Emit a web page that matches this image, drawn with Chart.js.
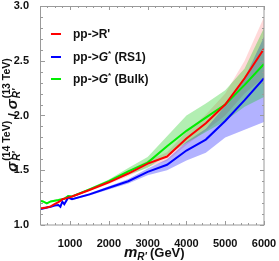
<!DOCTYPE html>
<html>
<head>
<meta charset="utf-8">
<script src="https://cdn.jsdelivr.net/npm/chart.js@4.4.0/dist/chart.umd.min.js"></script>
<style>
    html, body { margin: 0; padding: 0; background: #fff; }
</style>
</head>
<body>
<canvas id="ratioChart" width="279" height="261"></canvas>
<script>
const massGeV = [250, 300, 400, 500, 600, 700, 750, 800, 850, 950, 1050, 1500, 2000, 2500, 3000, 3500, 4000, 4500, 5000, 5500, 6000];

const ratioR     = [1.153, 1.155, 1.16, 1.17, 1.19, 1.21, 1.22, 1.235, 1.24, 1.25, 1.26, 1.32, 1.39, 1.47, 1.56, 1.625, 1.79, 1.93, 2.10, 2.34, 2.61];
const ratioRUp   = [1.16, 1.162, 1.167, 1.177, 1.198, 1.218, 1.228, 1.243, 1.248, 1.258, 1.268, 1.33, 1.405, 1.495, 1.59, 1.665, 1.85, 2.01, 2.20, 2.50, 2.90];
const ratioRDown = [1.146, 1.148, 1.153, 1.163, 1.182, 1.202, 1.212, 1.227, 1.232, 1.242, 1.252, 1.31, 1.375, 1.445, 1.53, 1.585, 1.73, 1.86, 2.00, 2.20, 2.35];

const ratioRS1     = [1.146, 1.15, 1.16, 1.167, 1.178, 1.183, 1.167, 1.213, 1.19, 1.25, 1.235, 1.28, 1.34, 1.40, 1.485, 1.55, 1.68, 1.78, 1.95, 2.14, 2.34];
const ratioRS1Up   = [1.153, 1.157, 1.167, 1.174, 1.185, 1.19, 1.174, 1.22, 1.197, 1.257, 1.242, 1.29, 1.355, 1.42, 1.515, 1.60, 1.76, 1.88, 2.09, 2.34, 2.72];
const ratioRS1Down = [1.139, 1.143, 1.153, 1.16, 1.171, 1.176, 1.16, 1.206, 1.183, 1.243, 1.228, 1.27, 1.325, 1.38, 1.455, 1.50, 1.59, 1.66, 1.80, 1.87, 1.94];

const ratioBulk     = [1.22, 1.215, 1.198, 1.215, 1.222, 1.228, 1.232, 1.235, 1.24, 1.265, 1.26, 1.325, 1.40, 1.49, 1.57, 1.72, 1.86, 1.98, 2.10, 2.28, 2.47];
const ratioBulkUp   = [1.228, 1.223, 1.206, 1.223, 1.23, 1.236, 1.24, 1.243, 1.248, 1.273, 1.268, 1.335, 1.415, 1.52, 1.62, 1.81, 2.00, 2.11, 2.23, 2.43, 2.80];
const ratioBulkDown = [1.212, 1.207, 1.19, 1.207, 1.214, 1.22, 1.224, 1.227, 1.232, 1.257, 1.252, 1.315, 1.385, 1.46, 1.52, 1.64, 1.75, 1.85, 1.95, 2.08, 2.17];

const xTickLabels = [1000, 2000, 3000, 4000, 5000, 6000];
const yTickLabels = [1.0, 1.5, 2.0, 2.5, 3.0];

const FONT = '"Liberation Sans", Arial, sans-serif';

function pts(values) {
    return massGeV.map((m, i) => ({ x: m, y: values[i] }));
}

function lineSet(values, color) {
    return { data: pts(values), borderColor: color, borderWidth: 2, pointRadius: 0, fill: false, tension: 0 };
}

function bandSet(values, fillColor, fill) {
    return { data: pts(values), borderWidth: 0, borderColor: 'transparent', backgroundColor: fillColor, pointRadius: 0, fill: fill, tension: 0 };
}

// frame with inward ticks on all four sides, like the original plot
const framePlugin = {
    id: 'frame',
    afterDraw(chart) {
        const { ctx, chartArea: a, scales: { x, y } } = chart;
        ctx.save();
        ctx.strokeStyle = '#9a9a9a';
        ctx.lineWidth = 1;
        ctx.strokeRect(a.left - 0.5, a.top + 0.5, a.right - a.left + 0.5, a.bottom - a.top - 0.5);

        ctx.beginPath();
        for (let v = 1.0; v <= 3.0001; v += 0.1) {
            const py = Math.round(y.getPixelForValue(v)) + 0.5;
            const major = Math.abs(v * 2 - Math.round(v * 2)) < 1e-6;
            const len = major ? 4 : 2;
            ctx.moveTo(a.left, py); ctx.lineTo(a.left + len, py);
            ctx.moveTo(a.right, py); ctx.lineTo(a.right - len, py);
        }
        for (let v = 400; v <= 6000; v += 200) {
            const px = Math.round(x.getPixelForValue(v)) + 0.5;
            const len = v % 1000 === 0 ? 4 : 2;
            ctx.moveTo(px, a.bottom); ctx.lineTo(px, a.bottom - len);
            ctx.moveTo(px, a.top); ctx.lineTo(px, a.top + len);
        }
        ctx.stroke();
        ctx.restore();
    }
};

function drawRuns(ctx, runs, x0, y0) {
    let x = x0;
    runs.forEach(r => {
        ctx.font = r.font;
        ctx.fillText(r.text, x, y0 + (r.dy || 0));
        if (!r.noAdvance) x += ctx.measureText(r.text).width + (r.gap || 0);
    });
    return x;
}

function runsWidth(ctx, runs) {
    let w = 0;
    runs.forEach(r => {
        ctx.font = r.font;
        if (!r.noAdvance) w += ctx.measureText(r.text).width + (r.gap || 0);
    });
    return w;
}

// axis titles and legend drawn as text on the canvas
const labelPlugin = {
    id: 'labels',
    afterDraw(chart) {
        const ctx = chart.ctx;
        ctx.save();
        ctx.fillStyle = '#111';
        ctx.textBaseline = 'alphabetic';

        // y title: sigma_R'^(14 TeV) / sigma_R'^(13 TeV)
        const sig = `italic bold 15px ${FONT}`;
        const small = `bold 10.5px ${FONT}`;
        const smallIt = `italic bold 10px ${FONT}`;
        const yRuns = [
            { text: 'σ', font: sig, gap: 1 },
            { text: "R'", font: smallIt, dy: 3, noAdvance: true },
            { text: '(14 TeV)', font: small, dy: -7, gap: 4 },
            { text: '/', font: `bold 13px ${FONT}`, gap: 4 },
            { text: 'σ', font: sig, gap: 1 },
            { text: "R'", font: smallIt, dy: 3, noAdvance: true },
            { text: '(13 TeV)', font: small, dy: -7 }
        ];
        ctx.save();
        ctx.translate(17, 115);
        ctx.rotate(-Math.PI / 2);
        drawRuns(ctx, yRuns, -runsWidth(ctx, yRuns) / 2, 0);
        ctx.restore();

        // x title: m_R' (GeV)
        drawRuns(ctx, [
            { text: 'm', font: `italic bold 15px ${FONT}` },
            { text: "R'", font: `italic bold 10px ${FONT}`, dy: 3, gap: 3 },
            { text: '(GeV)', font: `bold 13px ${FONT}` }
        ], 124, 257);

        // legend
        const legend = [
            { color: '#ff0000', y: 34, runs: [{ text: "pp->R'", font: `bold 12px ${FONT}` }] },
            { color: '#0000ff', y: 57, runs: [
                { text: 'pp->', font: `bold 12px ${FONT}` },
                { text: 'G', font: `italic bold 12px ${FONT}` },
                { text: '*', font: `bold 8px ${FONT}`, dy: -5 },
                { text: ' (RS1)', font: `bold 12px ${FONT}` }
            ] },
            { color: '#00ee00', y: 79, runs: [
                { text: 'pp->', font: `bold 12px ${FONT}` },
                { text: 'G', font: `italic bold 12px ${FONT}` },
                { text: '*', font: `bold 8px ${FONT}`, dy: -5 },
                { text: ' (Bulk)', font: `bold 12px ${FONT}` }
            ] }
        ];
        legend.forEach(item => {
            ctx.strokeStyle = item.color;
            ctx.lineWidth = 2;
            ctx.beginPath();
            ctx.moveTo(51, item.y);
            ctx.lineTo(61, item.y);
            ctx.stroke();
            drawRuns(ctx, item.runs, 73, item.y + 4);
        });
        ctx.restore();
    }
};

const ctx = document.getElementById('ratioChart').getContext('2d');

new Chart(ctx, {
    type: 'line',
    data: {
        datasets: [
            lineSet(ratioR, '#ff0000'),
            lineSet(ratioRS1, '#0000ff'),
            lineSet(ratioBulk, '#00ee00'),
            bandSet(ratioBulkUp, 'rgba(0, 200, 0, 0.3)', '+1'),
            bandSet(ratioBulkDown, 'transparent', false),
            bandSet(ratioRS1Up, 'rgba(0, 0, 255, 0.3)', '+1'),
            bandSet(ratioRS1Down, 'transparent', false),
            bandSet(ratioRUp, 'rgba(255, 0, 0, 0.15)', '+1'),
            bandSet(ratioRDown, 'transparent', false)
        ]
    },
    options: {
        responsive: false,
        animation: false,
        layout: { padding: { top: 6, right: 15, left: 0, bottom: 0 } },
        plugins: { legend: { display: false }, tooltip: { enabled: false } },
        scales: {
            x: {
                type: 'linear',
                min: 250,
                max: 6000,
                grid: { display: false },
                border: { display: false },
                afterBuildTicks: s => { s.ticks = xTickLabels.map(v => ({ value: v })); },
                afterFit: s => { s.height = 36; s.paddingLeft = 0; s.paddingRight = 0; },
                ticks: {
                    color: '#111',
                    padding: 4,
                    maxRotation: 0,
                    autoSkip: false,
                    font: { family: FONT, size: 11, weight: 'bold' },
                    callback: v => String(v)
                }
            },
            y: {
                type: 'linear',
                min: 1,
                max: 3,
                grid: { display: false },
                border: { display: false },
                afterBuildTicks: s => { s.ticks = yTickLabels.map(v => ({ value: v })); },
                afterFit: s => { s.width = 41; s.paddingTop = 0; s.paddingBottom = 0; },
                ticks: {
                    color: '#111',
                    padding: 4,
                    font: { family: FONT, size: 11, weight: 'bold' },
                    callback: v => Number(v).toFixed(1)
                }
            }
        }
    },
    plugins: [framePlugin, labelPlugin]
});
</script>
</body>
</html>
